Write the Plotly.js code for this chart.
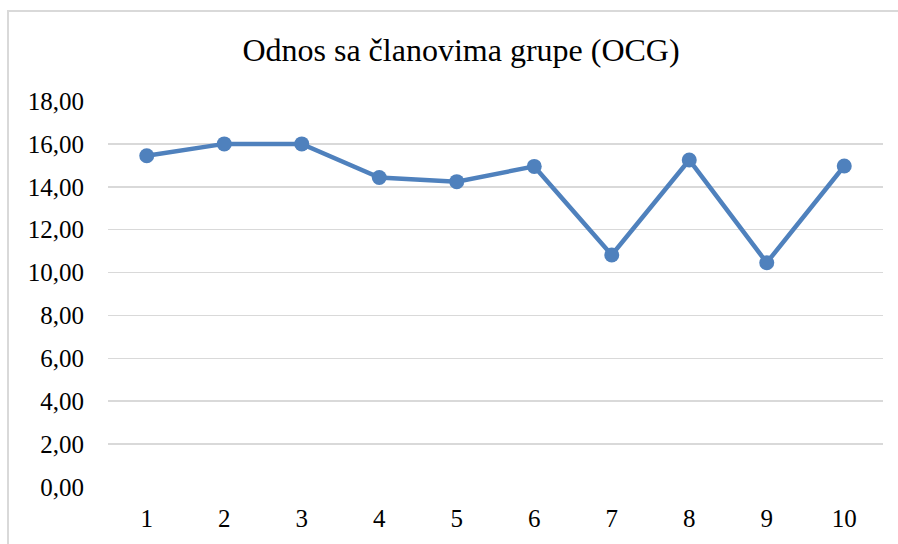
<!DOCTYPE html>
<html>
<head>
<meta charset="utf-8">
<script src="https://cdn.plot.ly/plotly-3.0.1.min.js"></script>
<style>
html,body{margin:0;padding:0;background:#fff;}
#chart{position:absolute;left:0;top:0;width:898px;height:544px;}
#frame{position:absolute;left:7px;top:10px;width:900px;height:560px;border-left:2px solid #d9d9d9;border-top:2px solid #d9d9d9;pointer-events:none;}
</style>
</head>
<body>
<div id="chart"></div>
<div id="frame"></div>
<script>
const categories = ['1','2','3','4','5','6','7','8','9','10'];
const values = [15.45, 16.0, 16.0, 14.43, 14.24, 14.95, 10.82, 15.25, 10.46, 14.97];
const yTicks = [0, 2, 4, 6, 8, 10, 12, 14, 16, 18];
const chartTitle = 'Odnos sa članovima grupe (OCG)';

const serif = 'Times New Roman, Liberation Serif, serif';

Plotly.newPlot('chart', [{
  type: 'scatter',
  mode: 'lines+markers',
  x: categories,
  y: values,
  line: {color: '#4f81bd', width: 4.5},
  marker: {color: '#4f81bd', size: 15},
  hoverinfo: 'x+y'
}], {
  width: 898,
  height: 544,
  margin: {l: 108, r: 15, t: 101, b: 57},
  paper_bgcolor: 'rgba(0,0,0,0)',
  plot_bgcolor: '#fff',
  separators: ',.',
  showlegend: false,
  font: {family: serif, color: '#000'},
  title: {
    text: chartTitle,
    font: {family: serif, size: 32, color: '#000'},
    x: 461/898, xanchor: 'center',
    y: 1 - 50/544, yanchor: 'middle'
  },
  xaxis: {
    type: 'category',
    range: [-0.5, 9.5],
    showgrid: false,
    zeroline: false,
    showline: false,
    ticks: '',
    ticklabelstandoff: 14,
    tickfont: {family: serif, size: 25, color: '#000'}
  },
  yaxis: {
    range: [0, 18],
    tickvals: yTicks,
    tickformat: '.2f',
    showgrid: true,
    gridcolor: '#d9d9d9',
    gridwidth: 1.5,
    zeroline: false,
    showline: false,
    ticks: '',
    ticklabelstandoff: 23,
    tickfont: {family: serif, size: 25, color: '#000'}
  }
}, {displayModeBar: false, staticPlot: true});
</script>
</body>
</html>
